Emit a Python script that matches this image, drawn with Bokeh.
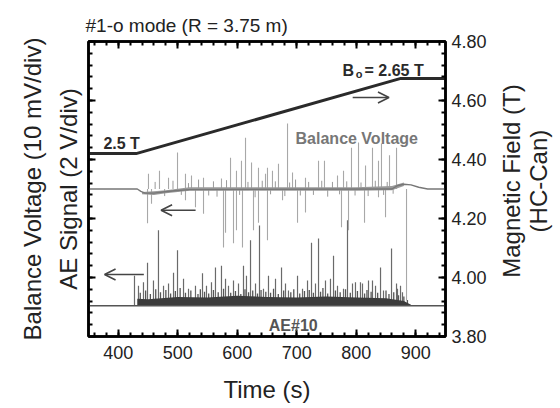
import numpy as np
from bokeh.plotting import figure
from bokeh.layouts import row
from bokeh.models import (Range1d, LinearAxis, FixedTicker, NumeralTickFormatter,
                          Arrow, OpenHead, Label, CustomJSTickFormatter)
from bokeh.core.properties import value
from bokeh.embed import file_html
from bokeh.resources import INLINE

# ---------------- data ----------------
# Magnetic field (right axis, T)
b_time = [350, 430, 875, 950]
b_field = [4.42, 4.42, 4.675, 4.675]

# Balance voltage (left axis, divisions)
bv_base_time = [350, 432, 438, 445, 460, 475, 495, 520, 860, 870, 880, 892, 905, 920, 950]
bv_base_val = [2.5, 2.5, 2.46, 2.43, 2.43, 2.45, 2.47, 2.49, 2.5, 2.56, 2.58, 2.57, 2.53, 2.5, 2.5]
bv_band_time = [440, 460, 480, 520, 600, 700, 800, 860, 880]
bv_band_lo = [2.41, 2.40, 2.43, 2.47, 2.47, 2.47, 2.47, 2.48, 2.55]
bv_band_hi = [2.45, 2.46, 2.48, 2.53, 2.53, 2.53, 2.53, 2.55, 2.61]
bv_spike_time = [450.8, 469.3, 484.5, 499.6, 513.0, 523.1, 543.3, 573.5, 588.7, 598.7,
                 607.1, 613.9, 624.0, 635.7, 647.5, 650.8, 659.2, 669.3, 684.5, 692.9,
                 714.7, 736.6, 746.6, 768.5, 778.6, 792.0, 803.8, 815.6, 827.3, 837.4,
                 842.4, 855.9, 867.7,
                 449.2, 455.9, 513.0, 529.8, 543.3, 576.9, 580.3, 593.7, 598.7, 608.8,
                 627.3, 635.7, 650.8, 676.1, 701.3, 714.7, 775.2, 787.0, 813.9, 837.4,
                 849.2, 884.5]
bv_spike_val = [2.76, 2.81, 2.69, 3.12, 2.76, 2.73, 2.69, 2.68, 3.03, 2.81,
                2.98, 3.37, 2.95, 2.86, 2.76, 2.86, 2.81, 2.93, 3.61, 2.78,
                2.69, 2.98, 2.98, 2.73, 2.81, 3.20, 3.29, 2.90, 3.20, 2.98,
                3.27, 3.07, 3.20,
                1.92, 2.25, 2.31, 2.19, 2.08, 1.51, 1.76, 1.58, 1.80, 1.51,
                1.80, 1.93, 1.63, 2.31, 1.93, 2.10, 1.85, 1.80, 1.93, 2.36,
                2.02, 0.61]
# small noise spikes on the balance-voltage trace
bv_small_time = [462, 478, 492, 506, 518, 535, 552, 560, 566, 582, 604, 618, 630, 642,
                 656, 664, 680, 688, 698, 706, 720, 728, 742, 752, 760, 772, 784, 798,
                 808, 820, 832, 846, 852, 862]
bv_small_val = [2.62, 2.38, 2.64, 2.40, 2.60, 2.66, 2.39, 2.63, 2.37, 2.65, 2.40, 2.62,
                2.36, 2.64, 2.41, 2.63, 2.38, 2.61, 2.66, 2.39, 2.62, 2.40, 2.64, 2.37,
                2.62, 2.41, 2.63, 2.39, 2.61, 2.38, 2.64, 2.40, 2.62, 2.42]
bv_spike_base = 2.5

# AE signal (left axis, divisions)
ae_base_time = [350, 950]
ae_base_val = [0.52, 0.52]
ae_band_time = [432, 450, 500, 550, 600, 650, 700, 750, 800, 850, 880, 892]
ae_band_top = [0.64, 0.63, 0.67, 0.66, 0.69, 0.67, 0.66, 0.68, 0.66, 0.65, 0.60, 0.54]
ae_spike_time = [427.3, 449.2, 467.6, 492.9, 499.6, 541.6, 563.4, 573.5, 593.7, 610.5,
                 622.3, 637.4, 652.5, 664.3, 674.4, 701.3, 718.1, 724.8, 736.6, 756.7,
                 761.8, 785.3, 798.7, 807.1, 820.6, 827.3, 840.8, 859.3, 867.7, 874.4,
                 434.0, 442.4, 459.2, 476.1, 484.5, 509.7, 518.1, 529.8, 548.3, 556.7,
                 580.3, 585.3, 602.1, 615.5, 630.7, 644.1, 681.1, 686.1, 709.7, 731.5,
                 748.3, 768.5, 778.6, 793.7, 810.5, 832.4, 845.8, 869.3, 877.7]
ae_spike_val = [1.03, 1.25, 1.80, 1.08, 1.46, 1.07, 1.17, 1.20, 0.95, 1.20,
                1.63, 1.88, 1.03, 0.98, 1.17, 1.03, 0.95, 1.59, 1.66, 0.98,
                1.37, 1.97, 0.92, 0.92, 0.95, 0.95, 1.17, 1.49, 0.90, 0.86,
                0.86, 0.92, 0.95, 0.86, 0.90, 0.98, 0.81, 0.86, 0.86, 0.92,
                0.98, 0.86, 0.90, 1.03, 0.90, 0.81, 0.90, 0.78, 0.81, 0.90,
                0.95, 0.86, 0.81, 0.90, 0.90, 0.86, 0.78, 0.81, 0.75]
# dense low-level AE bursts
ae_small_time = [437, 446, 454, 463, 471, 480, 488, 496, 504, 513, 522, 534, 538, 545,
                 552, 560, 568, 577, 589, 597, 606, 613, 619, 626, 634, 640, 648, 656,
                 661, 669, 678, 690, 695, 705, 713, 721, 728, 740, 744, 752, 765, 773,
                 782, 790, 802, 814, 818, 825, 836, 850, 855, 863, 871, 880, 886]
ae_small_val = [0.74, 0.78, 0.72, 0.80, 0.75, 0.79, 0.73, 0.77, 0.82, 0.74, 0.78, 0.72,
                0.80, 0.76, 0.73, 0.79, 0.75, 0.81, 0.74, 0.77, 0.72, 0.80, 0.75, 0.78,
                0.73, 0.79, 0.76, 0.74, 0.81, 0.72, 0.78, 0.75, 0.80, 0.73, 0.77, 0.79,
                0.74, 0.76, 0.82, 0.73, 0.78, 0.75, 0.80, 0.74, 0.77, 0.73, 0.79, 0.76,
                0.74, 0.78, 0.72, 0.75, 0.70, 0.68, 0.62]
ae_spike_base = 0.52

x_ticks = [400, 500, 600, 700, 800, 900]
b_ticks = [3.80, 4.00, 4.20, 4.40, 4.60, 4.80]
div_ticks = [0, 1, 2, 3, 4, 5]
right_title = ["Magnetic Field (T)", "(HC-Can)"]

FONT = "Liberation Sans"

p = figure(frame_width=357, frame_height=295, output_backend="svg", toolbar_location=None,
           x_range=Range1d(350, 950), y_range=Range1d(0, 5),
           min_border_left=88, min_border_right=50, min_border_top=41,
           min_border_bottom=72, x_axis_location=None, y_axis_location=None)
p.extra_y_ranges = {"B": Range1d(3.80, 4.80)}
p.grid.visible = False
p.background_fill_color = "white"
p.border_fill_color = "white"
p.outline_line_color = "black"
p.outline_line_width = 2.5

p.title.text = "#1-o mode (R = 3.75 m)"
p.title.text_font = FONT
p.title.text_font_size = "19px"
p.title.text_font_style = "normal"
p.title.text_color = "#222222"
p.title.align = "left"
p.title.offset = -3
p.title.standoff = 11

blank = CustomJSTickFormatter(code="return ''")

def style_axis(ax, minor_step, ticks, labels=True):
    ax.ticker = FixedTicker(ticks=ticks,
                            minor_ticks=list(np.arange(ticks[0] - 5 * minor_step,
                                                       ticks[-1] + 5 * minor_step, minor_step)))
    ax.major_tick_in = 7
    ax.major_tick_out = 0
    ax.minor_tick_in = 4
    ax.minor_tick_out = 0
    ax.major_tick_line_width = 2
    ax.minor_tick_line_width = 2
    ax.axis_line_width = 2.5
    ax.axis_line_color = "black"
    ax.major_tick_line_color = "black"
    ax.minor_tick_line_color = "black"
    ax.major_label_text_font = FONT
    ax.major_label_text_font_size = "18px"
    ax.major_label_text_color = "#222222"
    ax.axis_label_text_font = FONT
    ax.axis_label_text_font_size = "24px"
    ax.axis_label_text_font_style = "normal"
    ax.axis_label_text_color = "#222222"
    if not labels:
        ax.formatter = blank
        ax.major_label_text_font_size = "0px"
        ax.major_label_standoff = 0

xb = LinearAxis(axis_label="Time (s)")
style_axis(xb, 20, x_ticks)
xb.major_label_standoff = 9
xb.axis_label_standoff = 14
xb.axis_label_text_line_height = 1.0
p.add_layout(xb, "below")

xt = LinearAxis()
style_axis(xt, 20, x_ticks, labels=False)
p.add_layout(xt, "above")

yl = LinearAxis(axis_label="Balance Voltage (10 mV/div)\nAE Signal (2 V/div)")
style_axis(yl, 0.2, div_ticks, labels=False)
yl.axis_label_standoff = 7
yl.axis_label_text_line_height = 1.3
p.add_layout(yl, "left")

yr = LinearAxis(y_range_name="B")
style_axis(yr, 0.04, b_ticks)
yr.formatter = NumeralTickFormatter(format="0.00")
yr.major_label_standoff = 6
p.add_layout(yr, "right")

# AE signal
p.segment(x0=ae_small_time, y0=[ae_spike_base] * len(ae_small_time),
          x1=ae_small_time, y1=ae_small_val, line_color="#555555", line_width=1.3)
p.segment(x0=ae_spike_time, y0=[ae_spike_base] * len(ae_spike_time),
          x1=ae_spike_time, y1=ae_spike_val, line_color="#6a6a6a", line_width=1.2)
p.varea(x=ae_band_time, y1=[ae_spike_base] * len(ae_band_time), y2=ae_band_top,
        fill_color="#3c3c3c")
p.line(ae_base_time, ae_base_val, line_color="#555555", line_width=1.5)

# Balance voltage
p.segment(x0=bv_spike_time, y0=[bv_spike_base] * len(bv_spike_time),
          x1=bv_spike_time, y1=bv_spike_val, line_color="#a8a8a8", line_width=1.1)
p.segment(x0=bv_small_time, y0=[bv_spike_base] * len(bv_small_time),
          x1=bv_small_time, y1=bv_small_val, line_color="#999999", line_width=1.0)
p.varea(x=bv_band_time, y1=bv_band_lo, y2=bv_band_hi, fill_color="#9a9a9a")
p.line(bv_base_time, bv_base_val, line_color="#777777", line_width=1.4)

# Magnetic field
p.line(b_time, b_field, y_range_name="B", line_color="#2a2a2a", line_width=3)

# arrows
head = dict(size=11, line_width=1.6, line_color="#444444")
p.add_layout(Arrow(end=OpenHead(**head), x_start=794, y_start=4.05, x_end=855, y_end=4.05,
                   line_width=1.6, line_color="#444444"))
p.add_layout(Arrow(end=OpenHead(**head), x_start=530, y_start=2.14, x_end=472, y_end=2.14,
                   line_width=1.6, line_color="#444444"))
p.add_layout(Arrow(end=OpenHead(**head), x_start=443, y_start=1.05, x_end=377, y_end=1.05,
                   line_width=1.6, line_color="#444444"))

# in-plot annotations
def lab(x, y, t, size="16px", color="#2a2a2a"):
    p.add_layout(Label(x=x, y=y, text=t, text_font=FONT, text_font_size=size,
                       text_font_style="bold", text_color=color,
                       text_baseline="alphabetic"))

lab(375, 3.27, "2.5 T")
lab(777, 4.51, "B")
lab(799, 4.455, "o", size="11px")
lab(814, 4.51, "= 2.65 T")
lab(698, 3.36, "Balance Voltage", color="#777777")
lab(653, 0.19, "AE#10", color="#555555")

# right-hand axis title (reads bottom-to-top) in a narrow companion panel
q = figure(width=65, height=408, output_backend="svg", toolbar_location=None,
           x_range=Range1d(0, 65), y_range=Range1d(0, 408), min_border=0,
           x_axis_location=None, y_axis_location=None)
q.grid.visible = False
q.outline_line_color = None
q.background_fill_color = "white"
q.border_fill_color = "white"
q.text(x=[16, 43], y=[215, 215], text=right_title, angle=np.pi / 2,
       text_font=value(FONT), text_font_size="24px", text_color="#222222",
       text_align="center", text_baseline="middle")

layout = row(p, q, spacing=0)
open("out.html", "w").write(file_html(layout, INLINE))
